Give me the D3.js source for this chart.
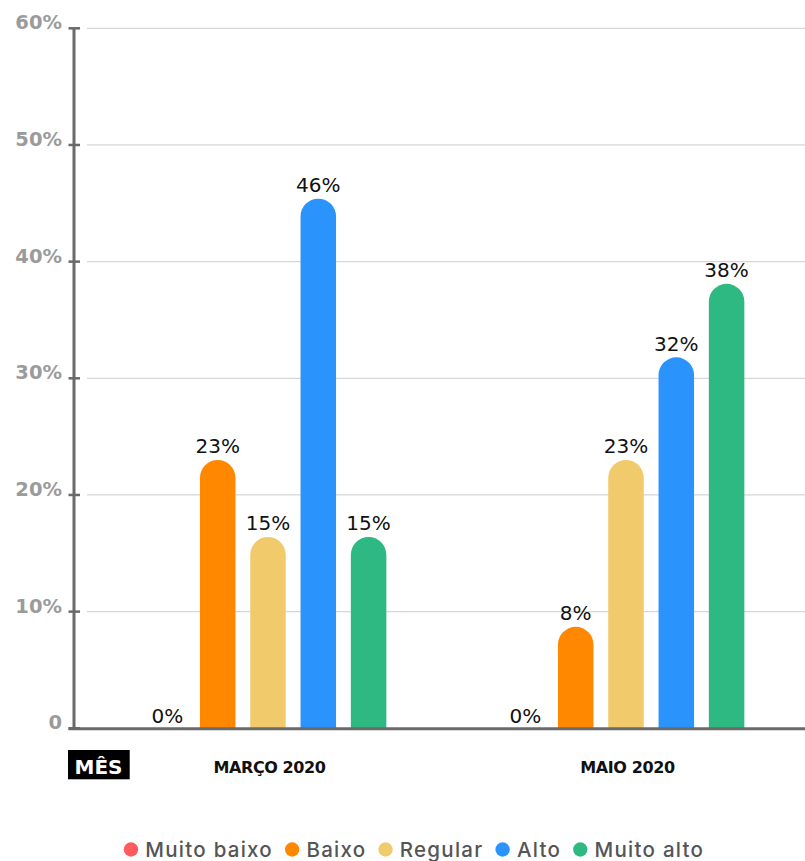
<!DOCTYPE html>
<html>
<head>
<meta charset="utf-8">
<script src="https://cdn.jsdelivr.net/npm/d3@7"></script>
<style>
  html, body { margin: 0; padding: 0; background: #fff; }
  svg { display: block; font-family: "DejaVu Sans", sans-serif; }
</style>
</head>
<body>
<svg id="chart" width="805" height="861"></svg>
<script>
// ---- Data ----
const categories = ["MARÇO 2020", "MAIO 2020"];
const series = ["Muito baixo", "Baixo", "Regular", "Alto", "Muito alto"];
const colors = ["#FF5A5F", "#FF8800", "#F1CB6B", "#2A93FC", "#2EB983"];
// bar values (percent)
const marcoValues = [0, 23, 16.4, 45.4, 16.4];
const maioValues  = [0, 8.7, 23, 31.8, 38.1];
// printed data labels
const marcoLabels = ["0%", "23%", "15%", "46%", "15%"];
const maioLabels  = ["0%", "8%", "23%", "32%", "38%"];
const yTicks = [0, 10, 20, 30, 40, 50, 60];
const yTickLabels = ["0", "10%", "20%", "30%", "40%", "50%", "60%"];
const axisTitle = "MÊS";

const values = [marcoValues, maioValues];
const labels = [marcoLabels, maioLabels];

const svg = d3.select("#chart");

const y = d3.scaleLinear().domain([0, 60]).range([728.3, 28.3]);
const x0 = d3.scaleBand().domain(categories).range([89, 805]).padding(0);
const x1 = d3.scaleBand().domain(series).range([0, x0.bandwidth()])
  .paddingInner(0.294).paddingOuter(1.206);
const color = d3.scaleOrdinal().domain(series).range(colors);

// gridlines
svg.append("g").selectAll("line").data(yTicks.filter(d => d > 0)).join("line")
  .attr("x1", 87).attr("x2", 805)
  .attr("y1", d => y(d)).attr("y2", d => y(d))
  .attr("stroke", "#d6d6d6").attr("stroke-width", 1.2);

// bars (rounded tops)
const bw = x1.bandwidth();
const r = bw / 2;
function barPath(x, top, bottom) {
  const h = bottom - top;
  if (h <= 0) return "";
  const rr = Math.min(r, h);
  return `M${x},${bottom} L${x},${top + rr} A${r},${rr} 0 0 1 ${x + bw},${top + rr} L${x + bw},${bottom} Z`;
}
const gBars = svg.append("g");
categories.forEach((cat, ci) => {
  series.forEach((s, si) => {
    const v = values[ci][si];
    const bx = x0(cat) + x1(s);
    gBars.append("path")
      .attr("d", barPath(bx, y(v), y(0)))
      .attr("fill", color(s));
    gBars.append("text")
      .attr("x", bx + bw / 2)
      .attr("y", y(v) - (v > 0 ? 6.5 : 5))
      .attr("text-anchor", "middle")
      .attr("font-size", 20)
      .attr("fill", "#111")
      .text(labels[ci][si]);
  });
});

// y axis
const axisColor = "#6a6a6a";
svg.append("line")
  .attr("x1", 74).attr("x2", 74)
  .attr("y1", y(60)).attr("y2", y(0))
  .attr("stroke", axisColor).attr("stroke-width", 3);
svg.append("g").selectAll("line").data(yTicks).join("line")
  .attr("x1", 68.5).attr("x2", 80)
  .attr("y1", d => y(d)).attr("y2", d => y(d))
  .attr("stroke", axisColor).attr("stroke-width", 2.5);
svg.append("g").selectAll("text").data(yTicks).join("text")
  .attr("x", 62).attr("y", d => y(d) + 1)
  .attr("text-anchor", "end")
  .attr("font-size", 19.5).attr("font-weight", "bold")
  .attr("fill", "#9b9b9b")
  .text((d, i) => yTickLabels[i]);

// baseline
svg.append("line")
  .attr("x1", 68.5).attr("x2", 805)
  .attr("y1", y(0) + 0.5).attr("y2", y(0) + 0.5)
  .attr("stroke", axisColor).attr("stroke-width", 3);

// x category labels
svg.append("g").selectAll("text").data(categories).join("text")
  .attr("x", d => x0(d) + x0.bandwidth() / 2 + 1.5)
  .attr("y", 772.7)
  .attr("text-anchor", "middle")
  .attr("font-size", 16).attr("font-weight", "bold")
  .attr("letter-spacing", "-0.4")
  .attr("fill", "#111")
  .text(d => d);

// axis title box
svg.append("rect").attr("x", 68).attr("y", 750).attr("width", 61.7).attr("height", 29.3).attr("fill", "#000");
svg.append("text").attr("x", 98.5).attr("y", 774)
  .attr("text-anchor", "middle").attr("font-size", 20).attr("font-weight", "bold")
  .attr("fill", "#fff").text(axisTitle);

// legend
const legend = svg.append("g");
let cx = 0;
series.forEach((s, i) => {
  const g = legend.append("g");
  g.append("circle").attr("cx", 7.2).attr("cy", 0).attr("r", 7.2).attr("fill", color(s));
  const t = g.append("text").attr("x", 21.5).attr("y", 7.3)
    .attr("font-family", "Inter, 'DejaVu Sans', sans-serif")
    .attr("font-size", 20.5).attr("font-weight", 500).attr("letter-spacing", "1.25")
    .attr("fill", "#555").text(s);
  const w = t.node().getComputedTextLength();
  g.attr("transform", `translate(${cx},849.5)`);
  cx += 21.5 + w + 12;
});
const total = cx - 12;
legend.attr("transform", `translate(${414 - total / 2},0)`);
</script>
</body>
</html>
